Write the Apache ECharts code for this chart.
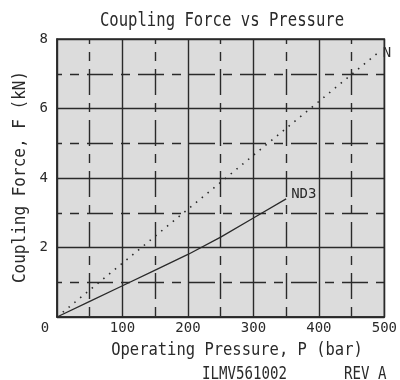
<!DOCTYPE html>
<html><head><meta charset="utf-8">
<script src="https://cdn.jsdelivr.net/npm/echarts@6/dist/echarts.min.js"></script>
<style>html,body{margin:0;padding:0;background:#fff}#c{width:400px;height:380px}</style>
</head><body><div id="c"></div>
<script>
const titleText = 'Coupling Force vs Pressure';
const xName = 'Operating Pressure, P (bar)';
const yName = 'Coupling Force, F (kN)';
const footerId = 'ILMV561002';
const footerRev = 'REV A';
const seriesNames = ['N', 'ND3'];
const pressureN = [0, 490];
const forceN = [0, 7.6];
const pressureND3 = [0, 50, 100, 150, 200, 250, 300, 350];
const forceND3 = [0, 0.45, 0.9, 1.35, 1.8, 2.3, 2.85, 3.4];
const xTicks = [0, 100, 200, 300, 400, 500];
const yTicks = [0, 2, 4, 6, 8];

const FONT = 'DejaVu Sans Mono';
const INK = '#2a2a2a';
const zip = (a, b) => a.map((v, i) => [v, b[i]]);
const dashPat = [26, 8, 9, 8];

const chart = echarts.init(document.getElementById('c'), null, {renderer: 'canvas'});
chart.setOption({
  animation: false,
  backgroundColor: '#fff',
  grid: {left: 57, right: 10, top: 39, bottom: 63, show: true,
         backgroundColor: '#dcdcdc', borderColor: INK, borderWidth: 1.5},
  xAxis: {
    type: 'value', min: xTicks[0], max: xTicks[xTicks.length - 1], interval: 100,
    axisLine: {show: true, lineStyle: {color: INK, width: 1.5}},
    axisTick: {show: false},
    axisLabel: {
      color: INK, fontFamily: FONT, fontSize: 14, margin: 4,
      formatter: v => v === 0 ? '{z|0}' : String(v),
      rich: {z: {fontFamily: FONT, fontSize: 14, color: INK, padding: [0, 24, 0, 0]}}
    },
    splitLine: {show: true, lineStyle: {color: INK, width: 1.4}},
    minorTick: {show: false, splitNumber: 2},
    minorSplitLine: {show: true, lineStyle: {color: INK, width: 1.4, type: dashPat, dashOffset: 21}}
  },
  yAxis: {
    type: 'value', min: yTicks[0], max: yTicks[yTicks.length - 1], interval: 2,
    axisLine: {show: true, lineStyle: {color: INK, width: 1.5}},
    axisTick: {show: false},
    axisLabel: {color: INK, fontFamily: FONT, fontSize: 14, margin: 9,
      formatter: v => v === 0 ? '' : String(v)},
    splitLine: {show: true, lineStyle: {color: INK, width: 1.4}},
    minorTick: {show: false, splitNumber: 2},
    minorSplitLine: {show: true, lineStyle: {color: INK, width: 1.4, type: dashPat, dashOffset: 21}}
  },
  series: [
    {
      name: seriesNames[0], type: 'line', data: zip(pressureN, forceN),
      showSymbol: false, symbol: 'none',
      lineStyle: {color: INK, width: 1.6, type: [1.5, 6]},
      endLabel: {show: true, formatter: seriesNames[0], fontFamily: FONT, fontSize: 14,
                 color: INK, distance: 5}
    },
    {
      name: seriesNames[1], type: 'line', data: zip(pressureND3, forceND3),
      showSymbol: false, symbol: 'none',
      lineStyle: {color: INK, width: 1.3},
      endLabel: {show: true, formatter: seriesNames[1], fontFamily: FONT, fontSize: 14,
                 color: INK, distance: 5, offset: [0, -4]}
    }
  ],
  graphic: [
    {type: 'text', x: 222, y: 21, scaleX: 0.78, style: {text: titleText, font: '20px "' + FONT + '"',
      fill: INK, textAlign: 'center', textVerticalAlign: 'middle'}},
    {type: 'text', x: 237, y: 350, scaleX: 0.86, style: {text: xName, font: '18px "' + FONT + '"',
      fill: INK, textAlign: 'center', textVerticalAlign: 'middle'}},
    {type: 'text', x: 20, y: 177, rotation: Math.PI / 2, scaleX: 0.89, style: {text: yName, font: '18px "' + FONT + '"',
      fill: INK, textAlign: 'center', textVerticalAlign: 'middle'}},
    {type: 'text', x: 202, y: 375, scaleX: 0.83, style: {text: footerId, font: '17px "' + FONT + '"',
      fill: INK, textAlign: 'left', textVerticalAlign: 'middle'}},
    {type: 'text', x: 344, y: 375, scaleX: 0.83, style: {text: footerRev, font: '17px "' + FONT + '"',
      fill: INK, textAlign: 'left', textVerticalAlign: 'middle'}}
  ]
});
</script></body></html>
